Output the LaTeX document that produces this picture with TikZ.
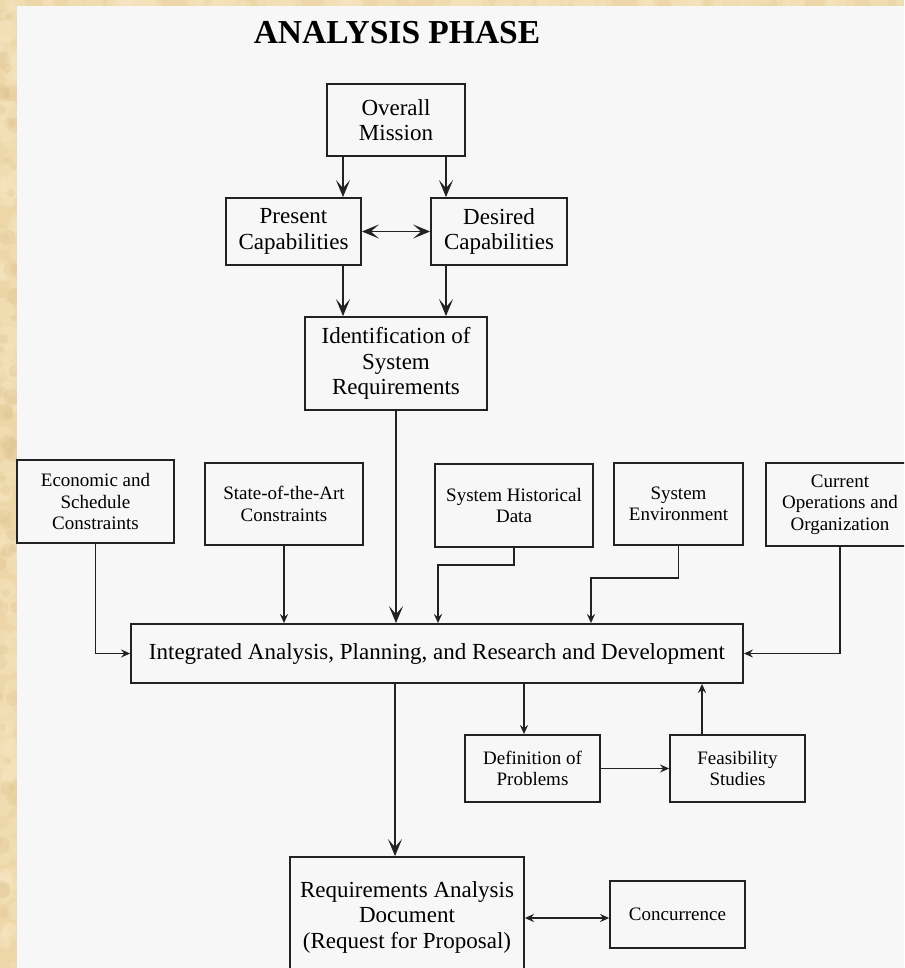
\documentclass[tikz,border=0pt]{standalone}
\usepackage{fontspec}
\setmainfont{Liberation Serif}
\usetikzlibrary{arrows.meta}

\definecolor{parchment}{HTML}{EDD7A8}
\definecolor{parchlight}{HTML}{F6E6C2}
\definecolor{parchdark}{HTML}{DCC08C}
\definecolor{panel}{HTML}{F7F7F7}
\definecolor{ink}{HTML}{222222}

\tikzset{
  box/.style={draw=ink, line width=1.8pt, align=center, inner sep=0pt},
  med/.style={font=\fontsize{23}{25.5}\selectfont},
  sml/.style={font=\fontsize{19}{21.5}\selectfont},
  wire/.style={draw=ink, line width=1.8pt},
  bigarrow/.style={wire, -{Stealth[length=17pt,width=14pt,inset=8pt]}},
  bigboth/.style={wire, {Stealth[length=17pt,width=14pt,inset=8pt]}-{Stealth[length=17pt,width=14pt,inset=8pt]}},
  smallarrow/.style={wire, -{Stealth[length=9pt,width=8pt,inset=3pt]}},
  smallboth/.style={wire, {Stealth[length=9pt,width=8pt,inset=3pt]}-{Stealth[length=9pt,width=8pt,inset=3pt]}},
}

\begin{document}
\begin{tikzpicture}[x=1pt, y=-1pt]
  \useasboundingbox (0,0) rectangle (904,968);
  \clip (0,0) rectangle (904,968);

  % parchment frame with a soft mottled texture
  \fill[parchment] (0,0) rectangle (904,968);
  \pgfmathsetseed{7}
  \foreach \i in {1,...,120} {
    \pgfmathsetmacro{\px}{rnd*17}
    \pgfmathsetmacro{\py}{rnd*968}
    \pgfmathsetmacro{\rr}{4+rnd*8}
    \fill[parchlight, opacity=0.35] (\px,\py) circle[radius=\rr];
  }
  \foreach \i in {1,...,60} {
    \pgfmathsetmacro{\px}{rnd*17}
    \pgfmathsetmacro{\py}{rnd*968}
    \pgfmathsetmacro{\rr}{3+rnd*6}
    \fill[parchdark, opacity=0.25] (\px,\py) circle[radius=\rr];
  }
  \foreach \i in {1,...,90} {
    \pgfmathsetmacro{\px}{rnd*904}
    \pgfmathsetmacro{\py}{rnd*6}
    \pgfmathsetmacro{\rr}{4+rnd*7}
    \fill[parchlight, opacity=0.35] (\px,\py) circle[radius=\rr];
  }
  \fill[panel] (17,6) rectangle (904,968);

  % title
  \node[font=\fontsize{33.5}{36}\selectfont\bfseries, anchor=base, inner sep=0pt] (title) at (397,44) {ANALYSIS PHASE};

  % upper chain
  \node[box, med, minimum width=138pt, minimum height=72pt] (om) at (396,120) {Overall\\Mission};
  \node[box, med, minimum width=135pt, minimum height=67pt] (pc) at (293.5,231.5) {Present\\Capabilities};
  \node[box, med, minimum width=136pt, minimum height=67pt] (dc) at (499,231.5) {Desired\\Capabilities};
  \node[box, med, minimum width=182pt, minimum height=93pt] (idr) at (396,363.5) {Identification of\\System\\Requirements};

  % input row
  \node[box, sml, minimum width=157pt, minimum height=83pt] (eco) at (95.5,501.5) {Economic and\\Schedule\\Constraints};
  \node[box, sml, minimum width=158pt, minimum height=82pt] (soa) at (284,504) {State-of-the-Art\\Constraints};
  \node[box, sml, minimum width=158pt, minimum height=83pt] (shd) at (514,505.5) {System Historical\\Data};
  \node[box, sml, minimum width=129pt, minimum height=82pt] (sen) at (678.5,504) {System\\Environment};
  \node[box, sml, minimum width=148pt, minimum height=83pt] (cur) at (840,504.5) {Current\\Operations and\\Organization};

  % central activity
  \node[box, med, minimum width=612pt, minimum height=59pt] (iap) at (437,653.5) {Integrated Analysis, Planning, and Research and Development};

  % loop below
  \node[box, sml, minimum width=135pt, minimum height=67pt] (dop) at (532.5,768.5) {Definition of\\Problems};
  \node[box, sml, minimum width=135pt, minimum height=67pt] (fst) at (737.5,768.5) {Feasibility\\Studies};

  % output
  \node[box, med, minimum width=234pt, minimum height=120pt] (rad) at (407,917) {Requirements Analysis\\Document\\(Request for Proposal)};
  \node[box, sml, minimum width=135pt, minimum height=67pt] (con) at (677.5,914.5) {Concurrence};

  % connectors, upper chain
  \draw[bigarrow] ([xshift=-53pt]om.south) -- ([xshift=49.5pt]pc.north);
  \draw[bigarrow] ([xshift=50pt]om.south) -- ([xshift=-53pt]dc.north);
  \draw[bigboth] (pc.east) -- (dc.west);
  \draw[bigarrow] ([xshift=49.5pt]pc.south) -- ([xshift=-53pt]idr.north);
  \draw[bigarrow] ([xshift=-53pt]dc.south) -- ([xshift=50pt]idr.north);
  \draw[bigarrow] (idr.south) -- (idr.south |- iap.north);

  % connectors, inputs
  \draw[smallarrow] (eco.south) |- (iap.west);
  \draw[smallarrow] (soa.south) -- (soa.south |- iap.north);
  \draw[smallarrow] (shd.south) -- ++(0,17) -| ([xshift=1pt]iap.north);
  \draw[smallarrow] (sen.south) -- ++(0,32) -| ([xshift=154pt]iap.north);
  \draw[smallarrow] (cur.south) |- (iap.east);

  % connectors, loop
  \draw[smallarrow] ([xshift=87pt]iap.south) -- ([xshift=-8.5pt]dop.north);
  \draw[smallarrow] (dop.east) -- (fst.west);
  \draw[smallarrow] ([xshift=-35.5pt]fst.north) -- ([xshift=265pt]iap.south);

  % connectors, output
  \draw[bigarrow] ([xshift=-42pt]iap.south) -- ([xshift=-12pt]rad.north);
  \draw[smallboth] ([yshift=-1pt]rad.east) -- ([yshift=-1pt]rad.east -| con.west);
\end{tikzpicture}
\end{document}
